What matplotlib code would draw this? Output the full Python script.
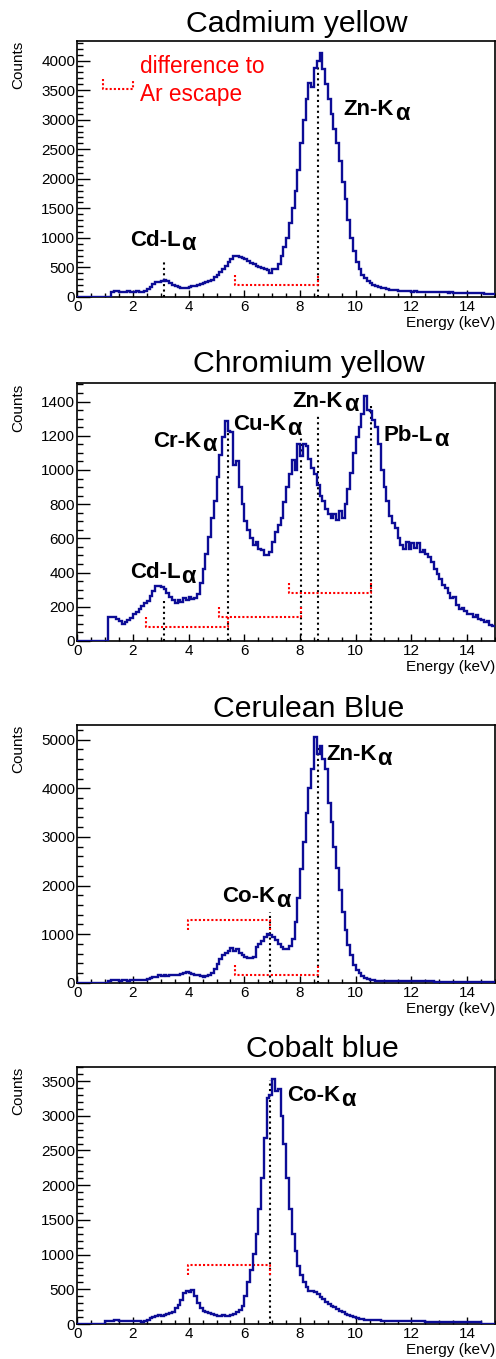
import numpy as np
import matplotlib
matplotlib.use('Agg')
import matplotlib.pyplot as plt
from matplotlib.ticker import MultipleLocator

plt.rcParams['font.family'] = ['Liberation Sans', 'DejaVu Sans']

# energy binning (0.1 keV bins from 0 to 15 keV)
edges = np.round(np.arange(0, 15.05, 0.1), 2)

# counts per bin (10 bins per row = 1 keV)
cadmium_yellow = [
    0, 0, 0, 0, 0, 0, 0, 0, 0, 0,
    0, 0, 90, 95, 95, 90, 85, 90, 95, 85,
    90, 95, 90, 90, 100, 130, 170, 215, 255, 260,
    275, 285, 270, 240, 210, 190, 175, 160, 155, 160,
    170, 185, 190, 210, 225, 240, 255, 270, 290, 340,
    380, 420, 470, 520, 600, 650, 700, 690, 680, 665,
    640, 610, 580, 550, 530, 510, 495, 480, 460, 400,
    472, 480, 560, 700, 850, 1000, 1250, 1500, 1800, 2150,
    2600, 3000, 3350, 3620, 3560, 3880, 4000, 4125, 3850, 3600,
    3350, 3100, 2850, 2600, 2300, 1950, 1650, 1300, 1000, 780,
    600, 480, 380, 320, 275, 240, 210, 190, 170, 155,
    145, 135, 125, 118, 112, 108, 104, 100, 98, 95,
    92, 96, 90, 88, 90, 86, 85, 84, 82, 80,
    80, 78, 78, 76, 77, 74, 73, 72, 70, 70,
    68, 68, 66, 64, 62, 60, 58, 56, 54, 52,
]

chromium_yellow = [
    0, 0, 0, 0, 0, 0, 0, 0, 0, 0,
    0, 139, 139, 139, 130, 115, 98, 110, 120, 135,
    155, 170, 185, 205, 220, 236, 262, 290, 320, 322,
    318, 305, 281, 260, 242, 225, 240, 230, 250, 240,
    255, 245, 252, 275, 340, 420, 510, 610, 720, 820,
    960, 1090, 1190, 1288, 1230, 1220, 1030, 1050, 900, 800,
    700, 650, 600, 560, 580, 540, 530, 505, 500, 520,
    580, 640, 680, 720, 810, 900, 975, 1060, 1000, 1150,
    1083, 1152, 1140, 1063, 1014, 975, 910, 850, 820, 770,
    740, 720, 740, 710, 760, 720, 800, 890, 980, 1100,
    1190, 1250, 1330, 1435, 1350, 1345, 1290, 1250, 1150, 1000,
    900, 820, 730, 690, 660, 600, 560, 540, 580, 540,
    575, 545, 575, 520, 530, 510, 490, 460, 420, 390,
    360, 330, 310, 280, 250, 260, 210, 190, 195, 175,
    160, 155, 140, 150, 130, 125, 110, 115, 95, 90,
]

cerulean_blue = [
    0, 0, 0, 0, 0, 0, 0, 0, 0, 0,
    0, 45, 50, 50, 50, 45, 50, 50, 45, 50,
    50, 55, 50, 55, 60, 75, 90, 110, 125, 160,
    140, 150, 145, 150, 150, 155, 165, 175, 195, 210,
    200, 185, 165, 150, 135, 125, 130, 150, 200, 290,
    390, 480, 560, 620, 650, 710, 650, 690, 620, 570,
    530, 505, 505, 520, 740, 790, 850, 950, 1000, 990,
    950, 880, 790, 730, 700, 690, 760, 900, 1250, 1750,
    2330, 2900, 3500, 4000, 4400, 5050, 4700, 4880, 4600, 4400,
    3700, 3300, 2800, 2350, 1900, 1450, 1080, 780, 560, 370,
    270, 200, 140, 100, 75, 60, 50, 42, 38, 35,
    33, 32, 31, 30, 30, 29, 29, 28, 28, 27,
    27, 27, 26, 26, 26, 25, 25, 25, 24, 24,
    24, 24, 23, 23, 23, 22, 22, 22, 22, 21,
    21, 21, 20, 20, 20, 19, 19, 18, 18, 18,
]

cobalt_blue = [
    0, 0, 0, 0, 0, 0, 0, 0, 0, 0,
    45, 50, 45, 55, 55, 45, 45, 40, 40, 40,
    45, 40, 40, 35, 45, 60, 80, 95, 110, 125,
    115, 125, 145, 160, 180, 225, 280, 350, 440, 470,
    460, 490, 400, 300, 230, 190, 170, 160, 150, 130,
    115, 110, 125, 120, 115, 130, 150, 175, 200, 260,
    400, 600, 780, 1012, 1300, 1650, 2100, 2680, 3256, 3304,
    3530, 3350, 3380, 3000, 2600, 2100, 1650, 1300, 1050, 830,
    700, 600, 535, 480, 470, 460, 430, 395, 355, 320,
    290, 260, 240, 215, 190, 170, 150, 125, 110, 95,
    85, 75, 67, 62, 60, 58, 57, 55, 52, 50,
    48, 46, 45, 44, 43, 42, 42, 41, 40, 40,
    39, 38, 38, 37, 37, 36, 36, 35, 35, 34,
    34, 33, 33, 32, 32, 31, 31, 30, 30, 29,
    29, 28, 28, 27, 27, 0, 0, 0, 0, 0,
]

# line energies (keV) and Ar escape shift
E_line = {'Cd-L': 3.13, 'Cr-K': 5.41, 'Cu-K': 8.05, 'Zn-K': 8.64,
          'Pb-L': 10.55, 'Co-K': 6.93}
ar_escape = 2.96

titles = ['Cadmium yellow', 'Chromium yellow', 'Cerulean Blue', 'Cobalt blue']
spectra = [cadmium_yellow, chromium_yellow, cerulean_blue, cobalt_blue]

# ---- layout (pixels of the 496x1359 canvas) ----
W, H = 496, 1359
ax_left, ax_right = 77.3, 495.0
ax_tops = [41.0, 383.3, 725.0, 1066.7]
ax_bots = [297.0, 641.0, 982.7, 1324.0]
title_xy = [(296.7, 31.7), (309.0, 372.3), (308.8, 716.7), (322.7, 1057.3)]
y_major = [500, 200, 1000, 500]
y_minor = [100, 50, 200, 100]

# dotted marker lines: (line, top of dotted line)
markers = [
    [('Cd-L', 600), ('Zn-K', 3920)],
    [('Cd-L', 240), ('Cr-K', 1247), ('Cu-K', 1200), ('Zn-K', 1322), ('Pb-L', 1394)],
    [('Co-K', 1463), ('Zn-K', 4897)],
    [('Co-K', 3519)],
]
# escape brackets: (line, height of bar, end of legs)
brackets = [
    [('Zn-K', 208, 377)],
    [('Cr-K', 80, 143), ('Cu-K', 139, 201), ('Pb-L', 283, 342)],
    [('Zn-K', 165, 364), ('Co-K', 1291, 1085)],
    [('Co-K', 845, 702)],
]
# peak labels: (label, x, y baseline)
labels = [
    [('Cd-L', 1.90, 862), ('Zn-K', 9.56, 3076)],
    [('Cr-K', 2.73, 1134), ('Cu-K', 5.61, 1233), ('Zn-K', 7.74, 1368),
     ('Pb-L', 11.0, 1169), ('Cd-L', 1.90, 368)],
    [('Zn-K', 8.94, 4573), ('Co-K', 5.21, 1656)],
    [('Co-K', 7.53, 3210)],
]

blue = '#0c0c96'
dot_black = dict(color='black', lw=1.5, ls=(0, (1.0, 1.6)))
dot_red = dict(color='#ff0000', lw=1.5, ls=(0, (1.0, 1.0)))

fig = plt.figure(figsize=(W / 100, H / 100), dpi=100)


def peak_label(ax, x, y, text):
    t = ax.text(x, y, text, fontsize=16, fontweight='bold', ha='left',
                va='baseline', color='black')
    ax.annotate('\u03b1', xy=(1, 0), xycoords=t, xytext=(0.5, -3.2),
                textcoords='offset points', fontsize=17, fontweight='bold',
                ha='left', va='bottom', color='black')


for i in range(4):
    counts = np.array(spectra[i], dtype=float)
    ax = fig.add_axes([ax_left / W, 1 - ax_bots[i] / H,
                       (ax_right - ax_left) / W, (ax_bots[i] - ax_tops[i]) / H])
    ymax = 1.05 * counts.max()
    ax.stairs(counts, edges, baseline=None, color=blue, lw=1.7, zorder=3)
    ax.set_xlim(0, 15)
    ax.set_ylim(0, ymax)

    for name, top in markers[i]:
        ax.plot([E_line[name], E_line[name]], [0, top], zorder=2, **dot_black)
    for name, h, leg in brackets[i]:
        x2 = E_line[name]
        x1 = x2 - ar_escape
        ax.plot([x1, x1, x2, x2], [leg, h, h, leg], zorder=2, **dot_red)
    for name, x, y in labels[i]:
        peak_label(ax, x, y, name)

    ax.xaxis.set_major_locator(MultipleLocator(2))
    ax.xaxis.set_minor_locator(MultipleLocator(0.5))
    ax.yaxis.set_major_locator(MultipleLocator(y_major[i]))
    ax.yaxis.set_minor_locator(MultipleLocator(y_minor[i]))
    ax.tick_params(axis='x', which='major', direction='in', length=5.4,
                   width=1.0, labelsize=11, pad=2.5, top=False)
    ax.tick_params(axis='x', which='minor', direction='in', length=2.8,
                   width=1.0, top=False)
    ax.tick_params(axis='y', which='major', direction='in', length=9.0,
                   width=1.0, labelsize=11, pad=1.5, right=False)
    ax.tick_params(axis='y', which='minor', direction='in', length=4.5,
                   width=1.0, right=False)
    for sp in ax.spines.values():
        sp.set_linewidth(1.2)

    ax.text((18.3 - ax_left) / (ax_right - ax_left), 1.0, 'Counts',
            transform=ax.transAxes, rotation=90, ha='center', va='top',
            fontsize=11)
    ax.annotate('Energy (keV)', xy=(1, 0), xycoords='axes fraction',
                xytext=(0, -21.5), textcoords='offset points',
                ha='right', va='baseline', fontsize=11)

    tx, ty = title_xy[i]
    fig.text(tx / W, 1 - ty / H, titles[i], ha='center', va='baseline',
             fontsize=21.8)

    if i == 0:
        # legend for the escape brackets
        ax.plot([0.91, 0.91, 1.99, 1.99], [3693, 3524, 3524, 3693], **dot_red)
        ax.text(2.25, 3791, 'difference to', color='#ff0000', fontsize=16.3,
                ha='left', va='baseline')
        ax.text(2.25, 3312, 'Ar escape', color='#ff0000', fontsize=16.3,
                ha='left', va='baseline')

fig.savefig('out.png', dpi=100)
